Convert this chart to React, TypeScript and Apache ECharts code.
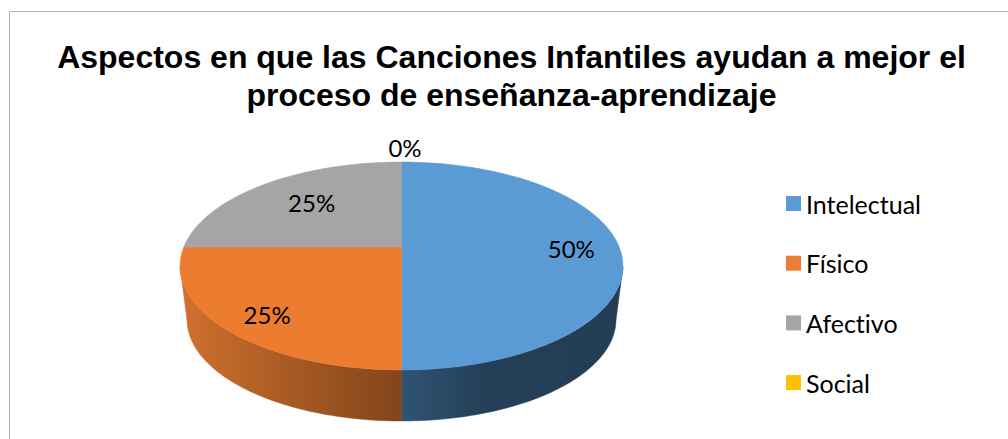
import React, { useEffect, useRef } from "react";
import * as echarts from "echarts";

const titleText = "Aspectos en que las Canciones Infantiles ayudan a mejor el\nproceso de enseñanza-aprendizaje";
const categories = ["Intelectual", "Físico", "Afectivo", "Social"];
const shares = [50, 25, 25, 0];
const labels = ["50%", "25%", "25%", "0%"];
const topColors = ["#5b9bd5", "#eb7c30", "#a5a5a5", "#ffc000"];
const legendColors = ["#5b9bd5", "#ed7d31", "#a5a5a5", "#ffc000"];

// Perspective model of the disc
const CX = 401.5, APEX_Y = 247;
const PA = 100.5, PB = 0.1827, PC = 217.7;
const TOP = { cy: 266, rx: 221.5, ry: 104 };
const BOTTOM = { cy: 319.5, rx: 214.5, ry: 101.5 };
const LABEL_FONT = "Lato";

const project = (deg: number, r: number) => {
  const a = (deg * Math.PI) / 180;
  const x = r * Math.cos(a), y = r * Math.sin(a);
  const w = 1 + PB * y;
  return [CX + (PC * x) / w, APEX_Y - (PA * y) / w];
};

const labelRadius = [0.78, 0.8, 0.67, 1.21];
const labelNudge = [[0, 1.5], [3, 4], [5, -1], [3.5, 0]];

const wallGradients: (null | [number, string][])[] = [
  [[0, "#2f5474"], [0.38, "#243f57"], [1, "#233d54"]],
  [[0, "#d0702d"], [0.5, "#a85a24"], [1, "#82451a"]],
  null,
  null,
];

const total = shares.reduce((s, v) => s + v, 0);

const renderSlice = (idx: number) => (_p: any, api: any) => {
  const value = api.value(0) as number;
  const before = shares.slice(0, idx).reduce((s, v) => s + v, 0);
  const start = 90 - (before / total) * 360;
  const sweep = (value / total) * 360;
  const end = start - sweep;
  const color = topColors[idx];
  const children: any[] = [];

  const rim: number[][] = [];
  const steps = Math.max(1, Math.ceil(sweep));
  if (sweep > 0) for (let i = 0; i <= steps; i++) rim.push(project(start + ((end - start) * i) / steps, 1));

  const grad = wallGradients[idx];
  if (grad && rim.length) {
    const upper: number[][] = [];
    const lower: number[][] = [];
    for (const p of rim) {
      const t = Math.atan2((p[1] - TOP.cy) / TOP.ry, (p[0] - CX) / TOP.rx);
      if (Math.sin(t) >= -0.001) {
        upper.push(p);
        lower.push([CX + BOTTOM.rx * Math.cos(t), BOTTOM.cy + BOTTOM.ry * Math.sin(t)]);
      }
    }
    const fill = new echarts.graphic.LinearGradient(
      Math.min(...upper.map((p) => p[0])), 0,
      Math.max(...upper.map((p) => p[0])), 0,
      grad.map(([offset, c]) => ({ offset, color: c })),
      true
    );
    children.push({
      type: "polygon",
      shape: { points: upper.concat(lower.reverse()) },
      style: { fill, stroke: fill, lineWidth: 0.5 },
    });
  }
  if (rim.length) {
    children.push({
      type: "polygon",
      shape: { points: [[CX, APEX_Y], ...rim] },
      style: { fill: color, stroke: color, lineWidth: 0.5 },
    });
  }
  const lp = project(start - sweep / 2, labelRadius[idx]);
  children.push({
    type: "text",
    x: lp[0] + labelNudge[idx][0],
    y: lp[1] + labelNudge[idx][1],
    z2: 10,
    style: {
      text: labels[idx],
      fill: "#000000",
      fontFamily: LABEL_FONT,
      fontSize: 24,
      align: "center",
      verticalAlign: "middle",
    },
  });
  return { type: "group", children };
};

export default function App() {
  const ref = useRef<HTMLDivElement>(null);
  useEffect(() => {
    document.body.style.margin = "0";
    const chart = echarts.init(ref.current!, undefined, { renderer: "svg" });
    chart.setOption({
      animation: false,
      backgroundColor: "#ffffff",
      title: {
        text: titleText,
        left: 506.5,
        top: 33,
        textAlign: "center",
        textStyle: {
          fontFamily: "Liberation Sans",
          fontWeight: "bold",
          fontSize: 32,
          lineHeight: 38,
          color: "#000000",
        },
      },
      legend: {
        orient: "vertical",
        left: 781,
        top: 186,
        itemWidth: 15,
        itemHeight: 15,
        itemGap: 34.7,
        icon: "rect",
        selectedMode: false,
        data: categories,
        textStyle: { fontFamily: LABEL_FONT, fontSize: 25, color: "#000000", lineHeight: 24 },
      },
      graphic: [
        {
          type: "polyline",
          shape: { points: [[9.5, 439], [9.5, 11.5], [1008, 11.5]] },
          style: { stroke: "#b3b3b3", lineWidth: 1, fill: "none" },
        },
      ],
      series: categories.map((name, i) => ({
        type: "custom",
        name,
        coordinateSystem: "none",
        itemStyle: { color: legendColors[i] },
        renderItem: renderSlice(i),
        data: [[shares[i]]],
        silent: true,
      })),
    });
    return () => chart.dispose();
  }, []);
  return <div ref={ref} style={{ width: 1008, height: 439, fontVariantLigatures: "none" }} />;
}
